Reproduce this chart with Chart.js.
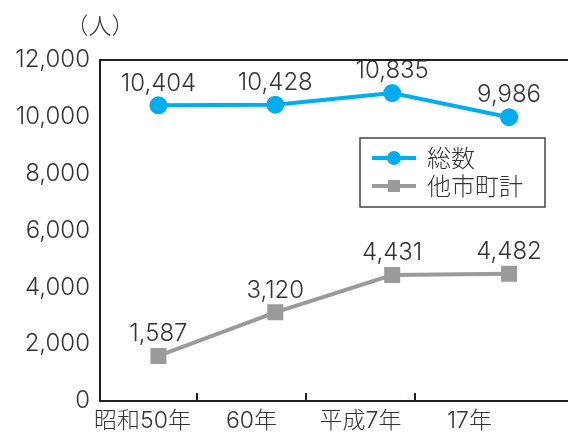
<!DOCTYPE html>
<html lang="ja">
<head>
<meta charset="utf-8">
<title>人数の推移</title>
<script src="https://cdn.jsdelivr.net/npm/chart.js@4"></script>
<style>
  html, body { margin: 0; padding: 0; background: #fff; overflow: hidden; }
</style>
</head>
<body>
<canvas id="myChart" width="580" height="439"></canvas>
<script>
const years = ['昭和50年', '60年', '平成7年', '17年'];
const totalCounts = [10404, 10428, 10835, 9986];
const otherCounts = [1587, 3120, 4431, 4482];
const seriesNames = ['総数', '他市町計'];
const yMax = 12000;
const yStep = 2000;

const FONT = "Inter, 'Noto Sans CJK JP', sans-serif";
const TEXT = '#333';
const BLUE = '#00aeef';
const GRAY = '#9a9a9c';

const fmt = v => v.toLocaleString('en-US');

// box around the plot (left, top, bottom) plus short inward ticks on the x axis
const framePlugin = {
    id: 'frame',
    afterDraw(chart) {
        const { ctx, chartArea: a } = chart;
        const x2 = chart.scales.x2;
        ctx.save();
        ctx.strokeStyle = '#231f20';
        ctx.lineWidth = 2;
        ctx.beginPath();
        ctx.moveTo(chart.width, a.top);
        ctx.lineTo(a.left, a.top);
        ctx.lineTo(a.left, a.bottom);
        ctx.lineTo(chart.width, a.bottom);
        for (let i = 0; i < years.length - 1; i++) {
            const px = Math.round(x2.getPixelForValue(i + 0.5));
            ctx.moveTo(px, a.bottom);
            ctx.lineTo(px, a.bottom - 8);
        }
        ctx.stroke();

        ctx.fillStyle = TEXT;
        ctx.font = "300 23px 'Noto Sans CJK JP', sans-serif";
        ctx.textAlign = 'center';
        ctx.textBaseline = 'middle';
        ctx.fillText('（人）', a.left, 25);
        ctx.restore();
    }
};

// value labels above each point
const valueLabels = {
    id: 'valueLabels',
    afterDatasetsDraw(chart) {
        const { ctx } = chart;
        ctx.save();
        ctx.fillStyle = TEXT;
        ctx.font = '300 24px ' + FONT;
        ctx.textAlign = 'center';
        ctx.textBaseline = 'middle';
        chart.data.datasets.forEach((ds, i) => {
            chart.getDatasetMeta(i).data.forEach((pt, j) => {
                ctx.fillText(fmt(ds.data[j]), pt.x, pt.y - 22);
            });
        });
        ctx.restore();
    }
};

// boxed legend inside the plot
const boxLegend = {
    id: 'boxLegend',
    afterDraw(chart) {
        const { ctx } = chart;
        const bx = 360, by = 138, bw = 185, bh = 69;
        ctx.save();
        ctx.strokeStyle = '#444';
        ctx.lineWidth = 1.5;
        ctx.strokeRect(bx, by, bw, bh);
        ctx.font = "300 24px 'Noto Sans CJK JP', sans-serif";
        ctx.textBaseline = 'middle';
        chart.data.datasets.forEach((ds, i) => {
            const y = by + 20 + i * 28;
            ctx.strokeStyle = ds.borderColor;
            ctx.lineWidth = 4;
            ctx.beginPath();
            ctx.moveTo(372, y);
            ctx.lineTo(416, y);
            ctx.stroke();
            ctx.fillStyle = ds.borderColor;
            if (ds.pointStyle === 'rect') {
                ctx.fillRect(388, y - 6, 12, 12);
            } else {
                ctx.beginPath();
                ctx.arc(394, y, 7, 0, Math.PI * 2);
                ctx.fill();
            }
            ctx.fillStyle = TEXT;
            ctx.fillText(ds.label, 427, y);
        });
        ctx.restore();
    }
};

const ctx = document.getElementById('myChart').getContext('2d');

const myChart = new Chart(ctx, {
    type: 'line',
    data: {
        labels: years,
        datasets: [{
            label: seriesNames[0],
            data: totalCounts,
            borderColor: BLUE,
            backgroundColor: BLUE,
            borderWidth: 4,
            pointStyle: 'circle',
            pointRadius: 7,
            pointHoverRadius: 7
        }, {
            label: seriesNames[1],
            data: otherCounts,
            borderColor: GRAY,
            backgroundColor: GRAY,
            borderWidth: 4,
            pointStyle: 'rect',
            pointRadius: 8.5,
            pointHoverRadius: 8.5
        }]
    },
    options: {
        responsive: false,
        animation: false,
        layout: { padding: { top: 60, right: 8, left: 0, bottom: 0 } },
        plugins: {
            legend: { display: false },
            tooltip: { enabled: false }
        },
        scales: {
            x: {
                display: false,
                offset: true
            },
            // axis that carries the year labels
            x2: {
                type: 'linear',
                position: 'bottom',
                min: -0.39,
                max: 3.9,
                afterBuildTicks(scale) {
                    scale.ticks = years.map((_, i) => ({ value: i }));
                },
                afterFit(scale) { scale.height = 38; },
                grid: { display: false, drawTicks: false },
                border: { display: false },
                ticks: {
                    padding: 6,
                    color: TEXT,
                    font: { family: FONT, size: 23, weight: '300' },
                    callback: v => years[v]
                }
            },
            y: {
                min: 0,
                max: yMax,
                afterFit(scale) { scale.width = 100; },
                grid: { display: false, drawTicks: false },
                border: { display: false },
                ticks: {
                    stepSize: yStep,
                    padding: 10,
                    color: TEXT,
                    font: { family: FONT, size: 24, weight: '300' },
                    callback: v => fmt(v)
                }
            }
        }
    },
    plugins: [framePlugin, valueLabels, boxLegend]
});
</script>
</body>
</html>
